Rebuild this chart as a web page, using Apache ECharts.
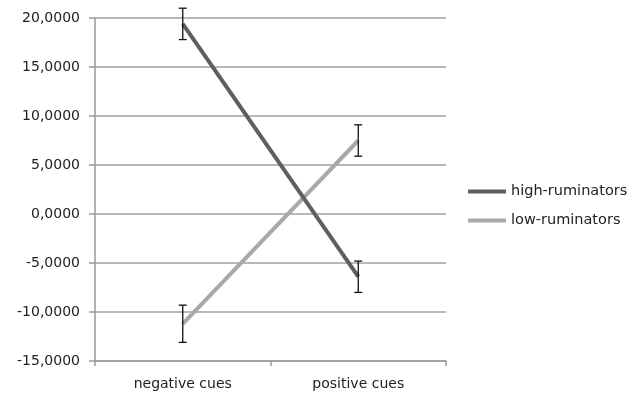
<!DOCTYPE html>
<html>
<head>
<meta charset="utf-8">
<script src="https://cdn.jsdelivr.net/npm/echarts@6/dist/echarts.min.js"></script>
<style>
  html, body { margin: 0; padding: 0; background: #fff; }
  #chart { width: 642px; height: 395px; }
</style>
</head>
<body>
<div id="chart"></div>
<script>
// Categories and group means
const categories = ['negative cues', 'positive cues'];
const highRuminators = [19.4, -6.4];
const lowRuminators = [-11.2, 7.5];
// Half-widths of the error bars
const highErr = [1.6, 1.6];
const lowErr = [1.9, 1.6];
// Value axis range
const yMin = -15, yMax = 20, yStep = 5;

const FONT = '"DejaVu Sans", "Open Sans", sans-serif';

function errData(means, errs) {
  return means.map((m, i) => [i, m - errs[i], m + errs[i]]);
}

function renderErr(params, api) {
  const x = api.value(0);
  const lo = api.coord([x, api.value(1)]);
  const hi = api.coord([x, api.value(2)]);
  const cap = 4;
  const style = { stroke: '#111', lineWidth: 1.3 };
  return {
    type: 'group',
    children: [
      { type: 'line', shape: { x1: lo[0], y1: lo[1], x2: hi[0], y2: hi[1] }, style },
      { type: 'line', shape: { x1: lo[0] - cap, y1: lo[1], x2: lo[0] + cap, y2: lo[1] }, style },
      { type: 'line', shape: { x1: hi[0] - cap, y1: hi[1], x2: hi[0] + cap, y2: hi[1] }, style }
    ]
  };
}

const chart = echarts.init(document.getElementById('chart'));
chart.setOption({
  animation: false,
  backgroundColor: '#fff',
  grid: { left: 95, right: 196, top: 18, bottom: 34 },
  legend: {
    orient: 'vertical',
    left: 463,
    top: 179,
    itemWidth: 38,
    itemHeight: 4,
    itemGap: 14,
    itemStyle: { borderWidth: 0 },
    icon: 'rect',
    textStyle: { fontFamily: FONT, fontSize: 14.5, color: '#222', padding: [0, 0, 0, 0] },
    data: ['high-ruminators', 'low-ruminators']
  },
  xAxis: {
    type: 'category',
    data: categories,
    boundaryGap: true,
    axisLine: { onZero: false, lineStyle: { color: '#999', width: 1.5 } },
    axisTick: { show: true, length: 5, lineStyle: { color: '#999', width: 1.5 } },
    axisLabel: { fontFamily: FONT, fontSize: 14, color: '#222', margin: 16 }
  },
  yAxis: {
    type: 'value',
    min: yMin, max: yMax, interval: yStep,
    axisLine: { show: true, lineStyle: { color: '#999', width: 1.5 } },
    axisTick: { show: true, length: 6, lineStyle: { color: '#999', width: 1.5 } },
    splitLine: { lineStyle: { color: '#a0a0a0', width: 1.5 } },
    axisLabel: {
      fontFamily: FONT, fontSize: 14, color: '#222', margin: 15,
      formatter: v => v.toFixed(4).replace('.', ',')
    }
  },
  series: [
    {
      name: 'high-ruminators', type: 'line', data: highRuminators,
      symbol: 'none', color: '#5f5f5f',
      lineStyle: { color: '#5f5f5f', width: 4 }, z: 3
    },
    {
      name: 'low-ruminators', type: 'line', data: lowRuminators,
      symbol: 'none', color: '#a9a9a9',
      lineStyle: { color: '#a9a9a9', width: 4 }, z: 2
    },
    { type: 'custom', data: errData(highRuminators, highErr), renderItem: renderErr, z: 5 },
    { type: 'custom', data: errData(lowRuminators, lowErr), renderItem: renderErr, z: 5 }
  ]
});
</script>
</body>
</html>
